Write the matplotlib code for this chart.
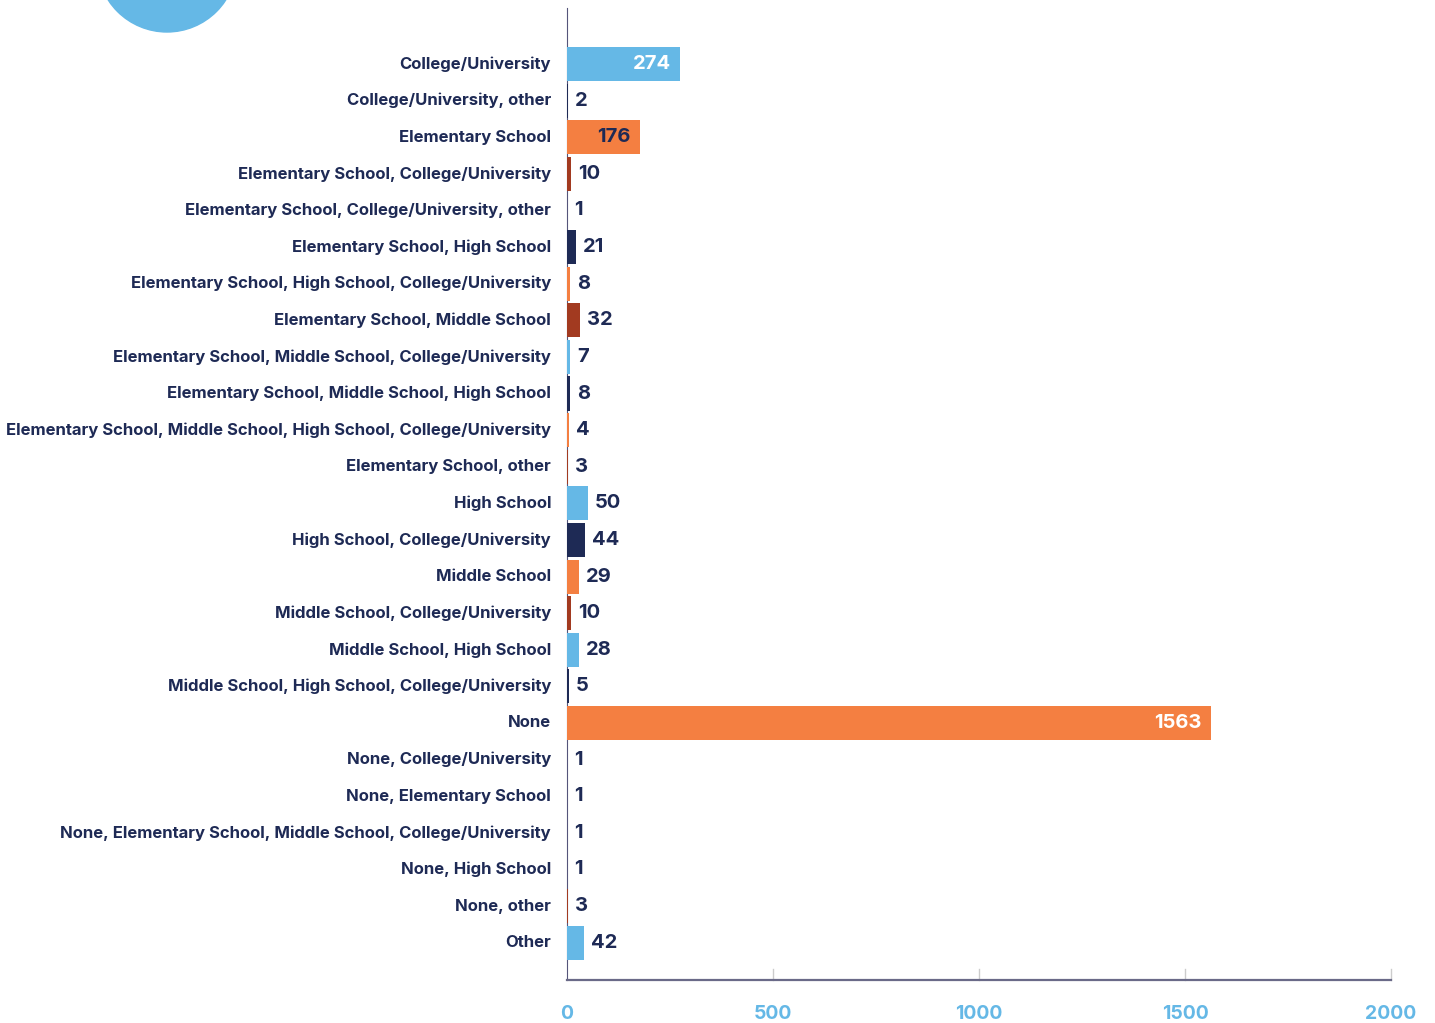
import matplotlib.pyplot as plt
from matplotlib.patches import Ellipse

categories = [
    "College/University",
    "College/University, other",
    "Elementary School",
    "Elementary School, College/University",
    "Elementary School, College/University, other",
    "Elementary School, High School",
    "Elementary School, High School, College/University",
    "Elementary School, Middle School",
    "Elementary School, Middle School, College/University",
    "Elementary School, Middle School, High School",
    "Elementary School, Middle School, High School, College/University",
    "Elementary School, other",
    "High School",
    "High School, College/University",
    "Middle School",
    "Middle School, College/University",
    "Middle School, High School",
    "Middle School, High School, College/University",
    "None",
    "None, College/University",
    "None, Elementary School",
    "None, Elementary School, Middle School, College/University",
    "None, High School",
    "None, other",
    "Other",
]
counts = [274, 2, 176, 10, 1, 21, 8, 32, 7, 8, 4, 3, 50, 44, 29, 10, 28, 5,
          1563, 1, 1, 1, 1, 3, 42]
xticks = [0, 500, 1000, 1500, 2000]

BLUE = "#65b8e6"
NAVY = "#1e2a55"
ORANGE = "#f47f41"
RUST = "#a23a20"
palette = [BLUE, NAVY, ORANGE, RUST]
colors = [palette[i % 4] for i in range(len(counts))]

plt.rcParams['font.family'] = ['Inter', 'DejaVu Sans']

fig = plt.figure(figsize=(14.35, 10.23), dpi=100)
ax = fig.add_axes([567 / 1435, 1 - 980 / 1023, 824 / 1435, 972 / 1023])

y = list(range(len(categories)))
ax.barh(y, counts, height=0.93, color=colors, zorder=3)

for i, v in enumerate(counts):
    if v >= 150:
        txt_color = NAVY if colors[i] == ORANGE and v < 1000 else "white"
        ax.annotate(str(v), (v, i), xytext=(-6.5, 0), textcoords="offset points",
                    ha="right", va="center", fontsize=14.5, fontweight="bold",
                    color=txt_color, zorder=4)
    else:
        ax.annotate(str(v), (v, i), xytext=(5, 0), textcoords="offset points",
                    ha="left", va="center", fontsize=14.5, fontweight="bold",
                    color=NAVY, zorder=4)

ax.set_xlim(0, 2000)
ax.set_ylim(len(categories) - 1 + 1.02, -1.53)
ax.set_yticks(y)
ax.set_yticklabels(categories, fontsize=12, fontweight="bold", color=NAVY)
for lbl in ax.get_yticklabels():
    lbl.set_va("center")
ax.tick_params(axis="y", length=0, pad=11.5)

ax.set_xticks(xticks)
ax.set_xticklabels([str(t) for t in xticks], fontsize=14, fontweight="bold",
                   color=BLUE)
ax.tick_params(axis="x", length=0, pad=18)
for t in xticks[1:]:
    ax.plot([t, t], [len(categories) - 1 + 1.02, len(categories) - 1 + 0.72],
            color="#cccccc", lw=1, zorder=1, clip_on=False)

for side in ["top", "right"]:
    ax.spines[side].set_visible(False)
ax.spines["left"].set_color("#55557a")
ax.spines["bottom"].set_color("#6a6a88")
ax.spines["bottom"].set_linewidth(1.6)

# decorative circle in the top-left corner
fig.add_artist(Ellipse((167 / 1435, 1 + 38 / 1023), 140 / 1435, 140 / 1023,
                       transform=fig.transFigure, color=BLUE, zorder=0))

fig.savefig("out.png", dpi=100)
